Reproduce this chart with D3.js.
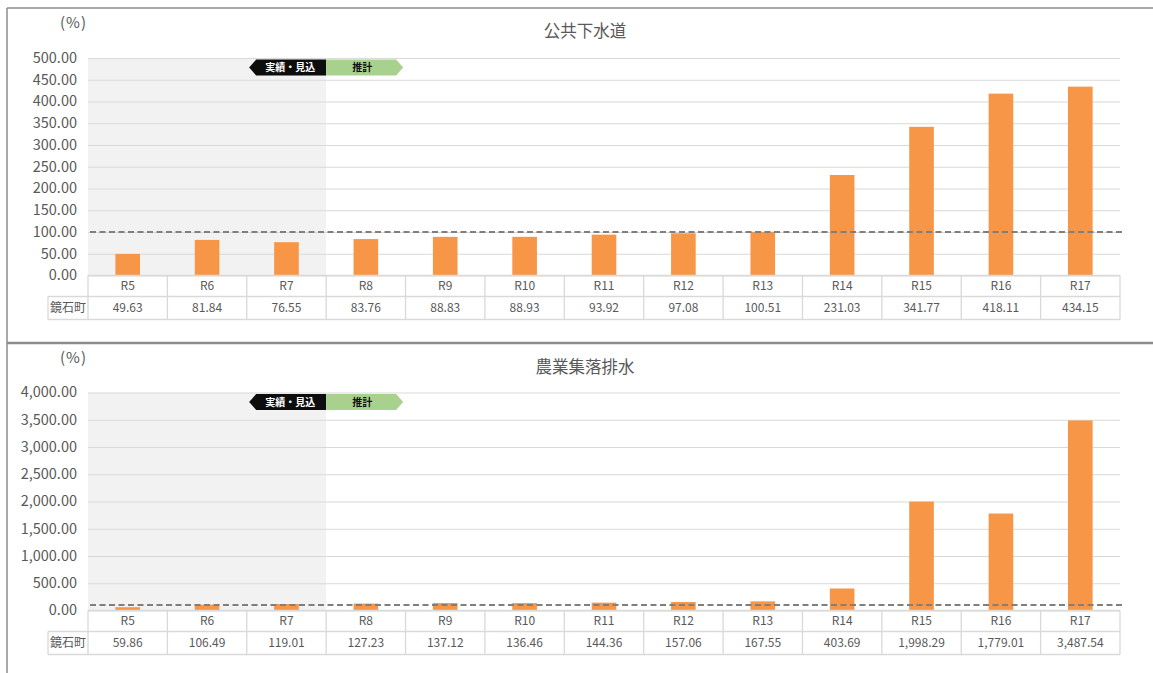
<!DOCTYPE html>
<html><head><meta charset="utf-8">
<script src="https://cdn.jsdelivr.net/npm/d3@7"></script>
<style>
html,body{margin:0;padding:0;background:#fff;}
svg{display:block;font-family:"Noto Sans CJK JP","Noto Sans",sans-serif;}
</style></head><body>
<svg id="c" width="1153" height="673"></svg>
<script>
const categories = ["R5","R6","R7","R8","R9","R10","R11","R12","R13","R14","R15","R16","R17"];
const sewerValues = [49.63,81.84,76.55,83.76,88.83,88.93,93.92,97.08,100.51,231.03,341.77,418.11,434.15];
const agriValues = [59.86,106.49,119.01,127.23,137.12,136.46,144.36,157.06,167.55,403.69,1998.29,1779.01,3487.54];
const sewerTicks = [0,50,100,150,200,250,300,350,400,450,500];
const agriTicks = [0,500,1000,1500,2000,2500,3000,3500,4000];
const titles = ["公共下水道","農業集落排水"];
const rowLabel = "鏡石町";
const unitLabel = "(%)";
const actualLabel = "実績・見込";
const forecastLabel = "推計";
const actualCount = 3;  // R5-R7 are actual/expected
const referenceValue = 100;

const svg = d3.select("#c");
const fmt = d3.format(",.2f");
const textColor = "#595959";
const gridColor = "#d9d9d9";

// frame
svg.append("line").attr("x1",7).attr("x2",1153).attr("y1",8).attr("y2",8).attr("stroke","#8c8c8c").attr("stroke-width",1.5);
svg.append("line").attr("x1",7).attr("x2",7).attr("y1",8).attr("y2",673).attr("stroke","#8c8c8c").attr("stroke-width",1.5);
svg.append("line").attr("x1",7).attr("x2",1153).attr("y1",343).attr("y2",343).attr("stroke","#8c8c8c").attr("stroke-width",2.5);

function drawPanel(cfg){
  const g = svg.append("g");
  const left = 88, right = 1120, labelLeft = 48;
  const x = d3.scaleBand().domain(categories).range([left,right]).padding(0);
  const y = d3.scaleLinear().domain([0, d3.max(cfg.ticks)]).range([cfg.y0, cfg.yTop]);
  const bw = x.bandwidth();

  // shaded actual area
  const shadeRight = x(categories[actualCount-1]) + bw;
  g.append("rect").attr("x",left).attr("y",cfg.yTop).attr("width",shadeRight-left).attr("height",cfg.y0-cfg.yTop).attr("fill","#f2f2f2");

  // grid + y axis
  const axis = d3.axisLeft(y).tickValues(cfg.ticks).tickFormat(fmt).tickSize(-(right-left)).tickPadding(11);
  const ag = g.append("g").attr("transform",`translate(${left},0)`).call(axis);
  ag.select(".domain").remove();
  ag.selectAll(".tick line").attr("stroke",gridColor).attr("stroke-width",1.2);
  ag.selectAll(".tick text").attr("fill",textColor).attr("font-size",14.5).attr("font-family","'Noto Sans CJK JP',sans-serif").attr("dy","0.3em");

  // badges
  const by = cfg.yTop+1.5, bh = 16;
  const bx = shadeRight;
  g.append("path").attr("d",`M${bx},${by}H${bx-70}L${bx-77},${by+bh/2}L${bx-70},${by+bh}H${bx}Z`).attr("fill","#0d0d0d");
  g.append("text").attr("x",bx-36).attr("y",by+bh/2).attr("dy","0.35em").attr("text-anchor","middle").attr("fill","#fff").attr("font-size",10).attr("font-weight","bold").text(actualLabel);
  g.append("path").attr("d",`M${bx},${by}H${bx+70}L${bx+77},${by+bh/2}L${bx+70},${by+bh}H${bx}Z`).attr("fill","#a9d18e");
  g.append("text").attr("x",bx+36).attr("y",by+bh/2).attr("dy","0.35em").attr("text-anchor","middle").attr("fill","#0d0d0d").attr("font-size",10).attr("font-weight","bold").text(forecastLabel);

  // bars
  const barW = bw*0.31;
  g.selectAll("rect.bar").data(cfg.values).join("rect").attr("class","bar")
    .attr("x",(d,i)=>x(categories[i])+(bw-barW)/2)
    .attr("y",d=>y(d)).attr("width",barW).attr("height",d=>y(0)-y(d))
    .attr("fill","#f79646");

  // reference dashed line
  g.append("line").attr("x1",left+2).attr("x2",right+3).attr("y1",y(referenceValue)).attr("y2",y(referenceValue))
    .attr("stroke","#7f7f7f").attr("stroke-width",2).attr("stroke-dasharray","6,3.5");

  // title + unit
  g.append("text").attr("x",585).attr("y",cfg.titleY).attr("text-anchor","middle").attr("fill",textColor).attr("font-size",16.5).text(cfg.title);
  g.append("text").attr("x",73.5).attr("y",cfg.unitY).attr("text-anchor","middle").attr("fill",textColor).attr("font-size",15).attr("letter-spacing",1).text(unitLabel);

  // table
  const r1 = cfg.y0, r2 = cfg.y0+21, r3 = cfg.y0+44;
  const tg = g.append("g").attr("fill","none").attr("stroke",gridColor).attr("stroke-width",1.3);
  tg.append("line").attr("x1",left).attr("x2",right).attr("y1",r1).attr("y2",r1);
  tg.append("line").attr("x1",labelLeft).attr("x2",right).attr("y1",r2).attr("y2",r2);
  tg.append("line").attr("x1",labelLeft).attr("x2",right).attr("y1",r3).attr("y2",r3);
  tg.append("line").attr("x1",labelLeft).attr("x2",labelLeft).attr("y1",r2).attr("y2",r3);
  categories.forEach((c,i)=>{
    tg.append("line").attr("x1",x(c)).attr("x2",x(c)).attr("y1",r1).attr("y2",r3);
  });
  tg.append("line").attr("x1",right).attr("x2",right).attr("y1",r1).attr("y2",r3);

  g.selectAll("text.cat").data(categories).join("text").attr("class","cat")
    .attr("x",d=>x(d)+bw/2).attr("y",(r1+r2)/2).attr("dy","0.35em").attr("text-anchor","middle")
    .attr("fill",textColor).attr("font-size",12).text(d=>d);
  g.selectAll("text.val").data(cfg.values).join("text").attr("class","val")
    .attr("x",(d,i)=>x(categories[i])+bw/2).attr("y",(r2+r3)/2).attr("dy","0.35em").attr("text-anchor","middle")
    .attr("fill",textColor).attr("font-size",12).text(d=>fmt(d));
  g.append("text").attr("x",(labelLeft+left)/2).attr("y",(r2+r3)/2).attr("dy","0.35em").attr("text-anchor","middle")
    .attr("fill",textColor).attr("font-size",12).text(rowLabel);
}

drawPanel({title:titles[0], values:sewerValues, ticks:sewerTicks, yTop:58, y0:275.5, titleY:37, unitY:28});
drawPanel({title:titles[1], values:agriValues, ticks:agriTicks, yTop:392.5, y0:610.5, titleY:373, unitY:363});
</script>
</body></html>
